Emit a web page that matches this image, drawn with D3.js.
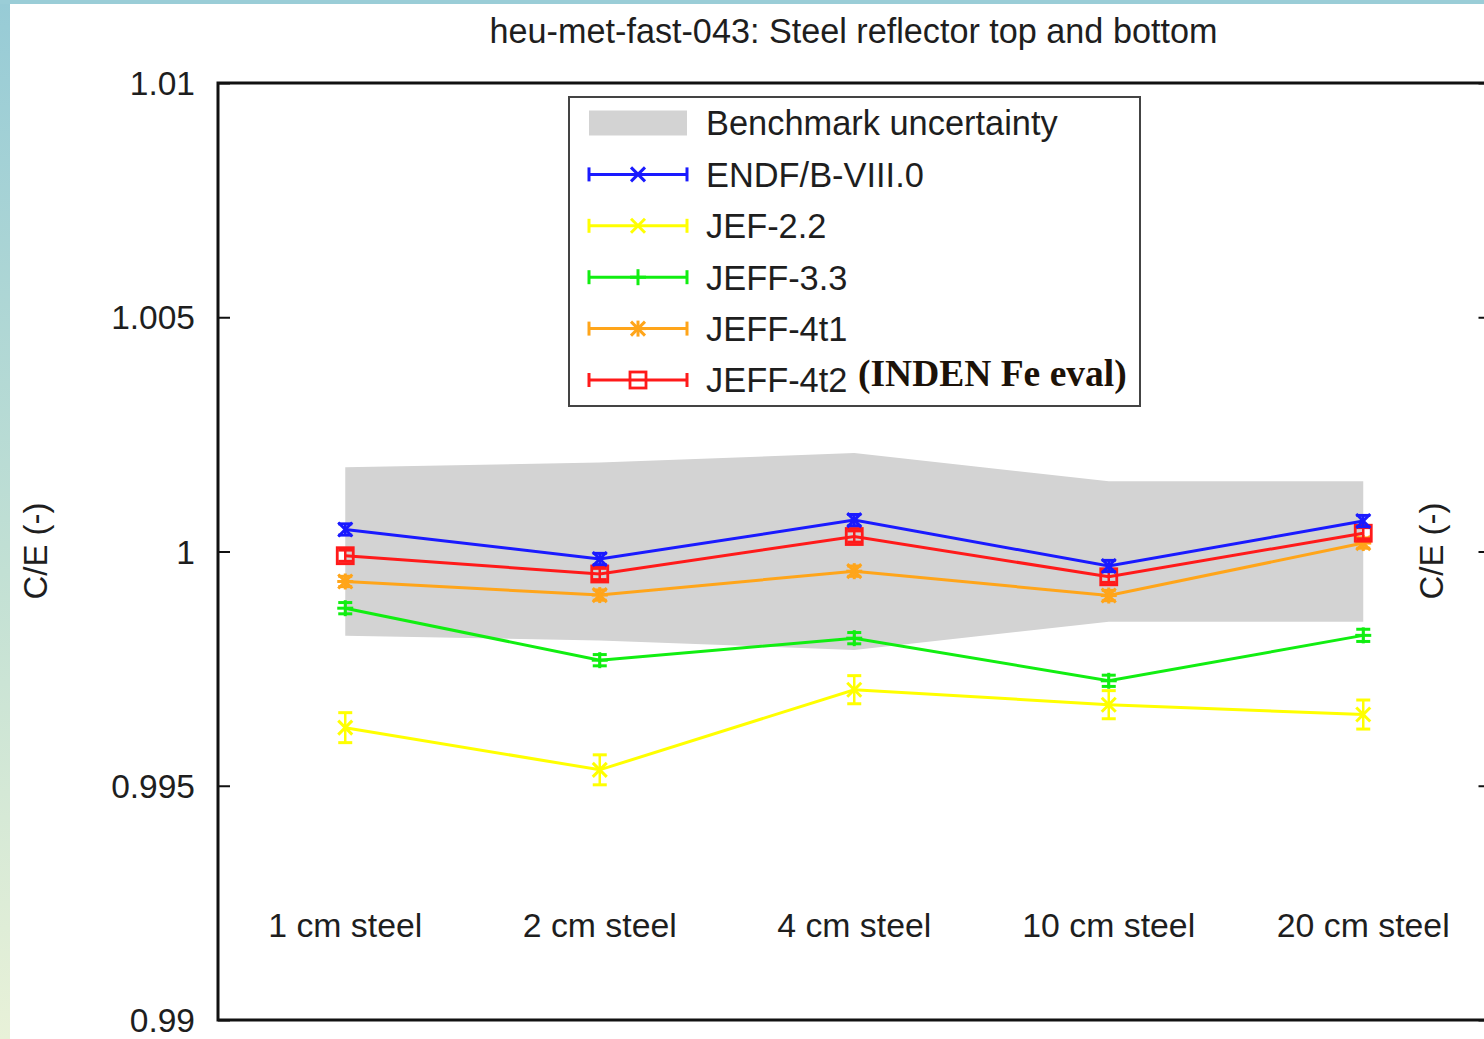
<!DOCTYPE html>
<html>
<head>
<meta charset="utf-8">
<script src="https://cdn.jsdelivr.net/npm/d3@7"></script>
<style>
  html, body { margin: 0; padding: 0; background: #fff; }
  svg { display: block; }
  text { font-family: "Liberation Sans", Arial, Helvetica, sans-serif; fill: #1e1e1e; }
</style>
</head>
<body>
<svg id="chart" width="1484" height="1039"></svg>
<script>
// Configurations (steel reflector thickness)
const categories = ["1 cm steel", "2 cm steel", "4 cm steel", "10 cm steel", "20 cm steel"];

// Benchmark experimental uncertainty (half-width around C/E = 1)
const benchmarkUnc = [0.0018, 0.0019, 0.0021, 0.0015, 0.0015];

// C/E values per nuclear data library
const endfb80 = [1.00047, 0.99984, 1.00067, 0.99969, 1.00065];
const jef22   = [0.99624, 0.99534, 0.99705, 0.99673, 0.99652];
const jeff33  = [0.99879, 0.99768, 0.99815, 0.99724, 0.99821];
const jeff4t1 = [0.99936, 0.99907, 0.99958, 0.99906, 1.00018];
const jeff4t2 = [0.99991, 0.99952, 1.00032, 0.99946, 1.00039];

// Calculation statistical uncertainties (1 sigma)
const endfb80Err = [0.00012, 0.00012, 0.00012, 0.00012, 0.00012];
const jef22Err   = [0.00032, 0.00032, 0.00030, 0.00030, 0.00031];
const jeff33Err  = [0.00012, 0.00012, 0.00012, 0.00012, 0.00013];
const jeff4t1Err = [0.00011, 0.00011, 0.00011, 0.00011, 0.00011];
const jeff4t2Err = [0.00012, 0.00012, 0.00012, 0.00012, 0.00012];

const yTicks = [0.99, 0.995, 1, 1.005, 1.01];
const yTickLabels = ["0.99", "0.995", "1", "1.005", "1.01"];

const seriesNames = ["ENDF/B-VIII.0", "JEF-2.2", "JEFF-3.3", "JEFF-4t1", "JEFF-4t2"];

const series = [
  { name: seriesNames[0], values: endfb80, err: endfb80Err, color: "#1a1aff", marker: "x" },
  { name: seriesNames[1], values: jef22,   err: jef22Err,   color: "#ffff00", marker: "x" },
  { name: seriesNames[2], values: jeff33,  err: jeff33Err,  color: "#11ee11", marker: "plus" },
  { name: seriesNames[3], values: jeff4t1, err: jeff4t1Err, color: "#ffa51a", marker: "star" },
  { name: seriesNames[4], values: jeff4t2, err: jeff4t2Err, color: "#ff1a1a", marker: "square" }
];
// draw order: lowest first so upper curves sit on top
const drawOrder = [1, 2, 3, 4, 0];

const svg = d3.select("#chart");
const W = 1484, H = 1039;

// page backdrop: tinted strips on the left and top edges
const defs = svg.append("defs");
const grad = defs.append("linearGradient").attr("id", "edgeGrad")
  .attr("x1", 0).attr("y1", 0).attr("x2", 0).attr("y2", 1);
grad.append("stop").attr("offset", "0%").attr("stop-color", "#97cbd6");
grad.append("stop").attr("offset", "55%").attr("stop-color", "#c2e0d4");
grad.append("stop").attr("offset", "100%").attr("stop-color", "#e8f1d8");
svg.append("rect").attr("x", 0).attr("y", 0).attr("width", W).attr("height", H).attr("fill", "#fff");
svg.append("rect").attr("x", 0).attr("y", 0).attr("width", 10).attr("height", H).attr("fill", "url(#edgeGrad)");
svg.append("rect").attr("x", 0).attr("y", 0).attr("width", W).attr("height", 4).attr("fill", "#9acdd7");

// plot frame geometry
const plot = { left: 218, right: 1490.5, top: 83, bottom: 1020 };

const x = d3.scaleBand().domain(categories).range([plot.left, plot.right]).padding(0);
const cx = c => x(c) + x.bandwidth() / 2;
const y = d3.scaleLinear().domain([0.99, 1.01]).range([plot.bottom, plot.top]);

// benchmark uncertainty band
const band = d3.area()
  .x((d, i) => cx(categories[i]))
  .y0(d => y(1 - d))
  .y1(d => y(1 + d));
svg.append("path").datum(benchmarkUnc)
  .attr("d", band)
  .attr("fill", "#d3d3d3");

// y axes (left with labels, right ticks only), inward ticks
const yAxisL = d3.axisRight(y).tickValues(yTicks).tickSize(12).tickFormat("");
const gL = svg.append("g").attr("transform", `translate(${plot.left},0)`).call(yAxisL);
gL.select(".domain").remove();
gL.selectAll(".tick line").attr("stroke", "#111").attr("stroke-width", 2);

const yAxisR = d3.axisLeft(y).tickValues(yTicks).tickSize(12).tickFormat("");
const gR = svg.append("g").attr("transform", `translate(${plot.right},0)`).call(yAxisR);
gR.select(".domain").remove();
gR.selectAll(".tick line").attr("stroke", "#111").attr("stroke-width", 2);

// tick labels
svg.append("g").selectAll("text").data(yTicks).join("text")
  .attr("x", 195)
  .attr("y", d => y(d))
  .attr("dy", "0.36em")
  .attr("text-anchor", "end")
  .attr("font-size", 33.5)
  .text((d, i) => yTickLabels[i]);

// category labels placed inside the plot
svg.append("g").selectAll("text").data(categories).join("text")
  .attr("x", d => cx(d))
  .attr("y", 937)
  .attr("text-anchor", "middle")
  .attr("font-size", 33.8)
  .text(d => d);

// frame
svg.append("path")
  .attr("d", `M${plot.right},${plot.top}H${plot.left}V${plot.bottom}H${plot.right}`)
  .attr("fill", "none").attr("stroke", "#111").attr("stroke-width", 3);

// markers
function drawMarker(g, type, px, py, color) {
  const s = 7;
  const add = (x1, y1, x2, y2) => g.append("line")
    .attr("x1", x1).attr("y1", y1).attr("x2", x2).attr("y2", y2)
    .attr("stroke", color).attr("stroke-width", 3);
  if (type === "x" || type === "star") {
    add(px - s, py - s, px + s, py + s);
    add(px - s, py + s, px + s, py - s);
  }
  if (type === "plus" || type === "star") {
    add(px - s - 1, py, px + s + 1, py);
    add(px, py - s - 1, px, py + s + 1);
  }
  if (type === "square") {
    g.append("rect").attr("x", px - 8).attr("y", py - 8).attr("width", 16).attr("height", 16)
      .attr("fill", "none").attr("stroke", color).attr("stroke-width", 2.8);
  }
}

const line = d3.line().x((d, i) => cx(categories[i])).y(d => y(d));
const capW = 7;

drawOrder.forEach(k => {
  const s = series[k];
  const g = svg.append("g");
  g.append("path").datum(s.values)
    .attr("d", line).attr("fill", "none")
    .attr("stroke", s.color).attr("stroke-width", 3);
  s.values.forEach((v, i) => {
    const px = cx(categories[i]);
    const e = s.err[i];
    const yt = y(v + e), yb = y(v - e);
    g.append("line").attr("x1", px).attr("x2", px).attr("y1", yt).attr("y2", yb)
      .attr("stroke", s.color).attr("stroke-width", 2.5);
    [yt, yb].forEach(yy => g.append("line")
      .attr("x1", px - capW).attr("x2", px + capW).attr("y1", yy).attr("y2", yy)
      .attr("stroke", s.color).attr("stroke-width", 3));
    drawMarker(g, s.marker, px, y(v), s.color);
  });
});

// title
svg.append("text")
  .attr("x", 853.5).attr("y", 43)
  .attr("text-anchor", "middle")
  .attr("font-size", 34.2)
  .text("heu-met-fast-043: Steel reflector top and bottom");

// y axis titles
svg.append("text")
  .attr("transform", "translate(47,551) rotate(-90)")
  .attr("text-anchor", "middle")
  .attr("font-size", 33)
  .text("C/E (-)");
svg.append("text")
  .attr("transform", "translate(1443,551) rotate(-90)")
  .attr("text-anchor", "middle")
  .attr("font-size", 33)
  .text("C/E (-)");

// legend
const leg = svg.append("g");
leg.append("rect").attr("x", 569).attr("y", 97).attr("width", 571).attr("height", 309)
  .attr("fill", "#fff").attr("stroke", "#444").attr("stroke-width", 2);
const rowY = i => 123 + i * 51.4;
const sx0 = 589, sx1 = 687, smid = 638, tx = 706;

leg.append("rect").attr("x", sx0).attr("y", rowY(0) - 12.5).attr("width", sx1 - sx0).attr("height", 25)
  .attr("fill", "#d3d3d3");
leg.append("text").attr("x", tx).attr("y", rowY(0)).attr("dy", "0.36em")
  .attr("font-size", 34.4).text("Benchmark uncertainty");

series.forEach((s, k) => {
  const ry = rowY(k + 1);
  const g = leg.append("g");
  g.append("line").attr("x1", sx0).attr("x2", sx1).attr("y1", ry).attr("y2", ry)
    .attr("stroke", s.color).attr("stroke-width", 3);
  [sx0, sx1].forEach(xx => g.append("line").attr("x1", xx).attr("x2", xx)
    .attr("y1", ry - 7).attr("y2", ry + 7).attr("stroke", s.color).attr("stroke-width", 3));
  drawMarker(g, s.marker, smid, ry, s.color);
  g.append("text").attr("x", tx).attr("y", ry).attr("dy", "0.36em")
    .attr("font-size", 34.4).text(s.name);
});

// annotation next to the JEFF-4t2 entry
leg.append("text")
  .attr("x", 858).attr("y", rowY(5) + 6)
  .style("font-family", "'Liberation Serif', 'Times New Roman', serif")
  .style("font-weight", "bold")
  .style("font-size", "37.5px")
  .style("fill", "#1c1208")
  .text("(INDEN Fe eval)");
</script>
</body>
</html>
